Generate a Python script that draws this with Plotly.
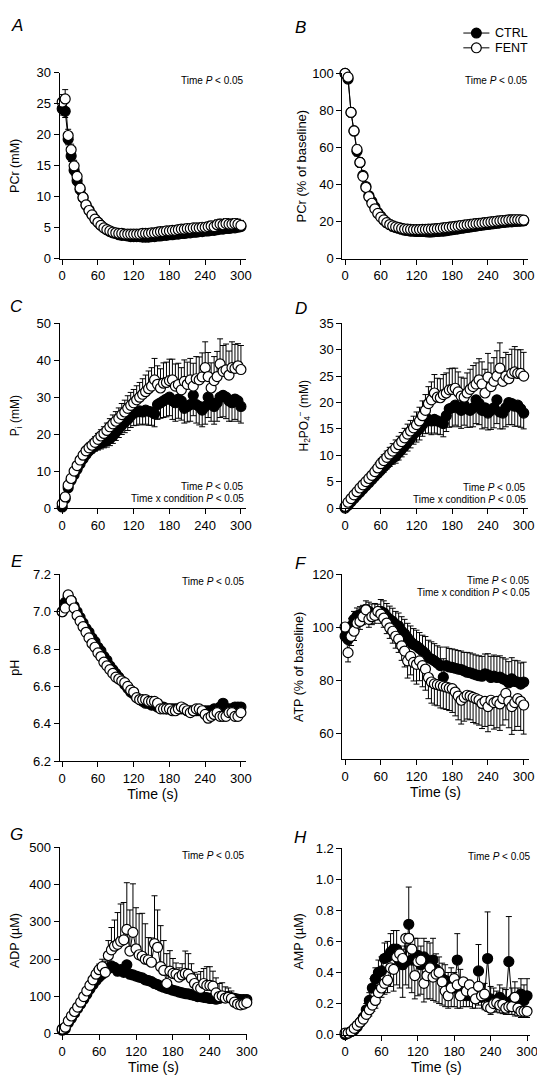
import plotly.graph_objects as go

W, H = 545, 1077
TIME_S = list(range(0, 305, 5))
X_TICKS = [0, 60, 120, 180, 240, 300]

# ---------------- A: PCr (mM) ----------------
pcr_mm_ctrl = [24.2, 23.8, 19.3, 16.6, 14.3, 12.6, 11.2, 9.9, 8.7, 7.9,
               7.1, 6.4, 5.9, 5.4, 5.0, 4.7, 4.4, 4.2, 4.1, 3.9,
               3.8, 3.8, 3.7, 3.6, 3.6, 3.6, 3.6, 3.5, 3.5, 3.5,
               3.6, 3.6, 3.7, 3.7, 3.8, 3.8, 3.9, 3.9, 4.0, 4.0,
               4.1, 4.1, 4.2, 4.2, 4.3, 4.3, 4.4, 4.4, 4.5, 4.5,
               4.6, 4.6, 4.7, 4.8, 4.8, 4.9, 4.9, 5.0, 5.0, 5.1,
               5.2]
pcr_mm_fent = [25.3, 25.8, 19.9, 17.6, 15.0, 13.3, 11.4, 9.9, 8.7, 7.8,
               7.1, 6.4, 5.9, 5.4, 5.0, 4.7, 4.5, 4.3, 4.2, 4.1,
               4.1, 4.0, 4.0, 4.0, 4.0, 4.0, 4.0, 4.1, 4.1, 4.1,
               4.2, 4.2, 4.3, 4.4, 4.4, 4.5, 4.5, 4.6, 4.6, 4.7,
               4.8, 4.8, 4.9, 4.9, 5.0, 5.0, 5.0, 5.1, 5.1, 5.2,
               5.3, 5.2, 5.5, 5.6, 5.5, 5.7, 5.6, 5.6, 5.7, 5.6,
               5.4]
pcr_mm_ctrl_err = [1.0, 1.0, 0.9, 0.9, 0.8, 0.8, 0.8, 0.7, 0.7, 0.7,
                   0.6, 0.6, 0.6, 0.6, 0.6, 0.6, 0.6, 0.6, 0.6, 0.6,
                   0.6, 0.6, 0.6, 0.6, 0.6, 0.6, 0.6, 0.6, 0.6, 0.6,
                   0.6, 0.6, 0.6, 0.6, 0.6, 0.6, 0.6, 0.6, 0.6, 0.6,
                   0.6, 0.6, 0.6, 0.6, 0.6, 0.6, 0.6, 0.6, 0.6, 0.6,
                   0.6, 0.6, 0.6, 0.6, 0.6, 0.6, 0.6, 0.6, 0.6, 0.6,
                   0.6]
pcr_mm_fent_err = [1.2, 1.5, 1.0, 0.9, 0.9, 0.8, 0.8, 0.8, 0.7, 0.7,
                   0.7, 0.7, 0.7, 0.7, 0.7, 0.7, 0.7, 0.7, 0.7, 0.7,
                   0.7, 0.7, 0.7, 0.7, 0.7, 0.7, 0.7, 0.7, 0.7, 0.7,
                   0.7, 0.7, 0.7, 0.7, 0.7, 0.7, 0.7, 0.7, 0.7, 0.7,
                   0.7, 0.7, 0.7, 0.7, 0.7, 0.7, 0.7, 0.7, 0.7, 0.7,
                   0.8, 0.8, 0.8, 0.8, 0.8, 0.8, 0.8, 0.8, 0.8, 0.8,
                   0.8]

# ---------------- B: PCr (% of baseline) ----------------
pcr_pct_ctrl = [100, 97, 79, 69, 58, 52, 45, 39, 34, 31,
                28, 25, 23, 21, 19.5, 18.5, 17.5, 17.0, 16.5, 16.0,
                15.5, 15.3, 15.0, 15.0, 14.8, 14.8, 14.8, 14.7, 14.5, 14.5,
                14.7, 14.8, 15.0, 15.0, 15.2, 15.5, 15.7, 16.0, 16.2, 16.5,
                16.7, 17.0, 17.2, 17.5, 17.7, 18.0, 18.2, 18.4, 18.6, 18.8,
                19.0, 19.2, 19.4, 19.6, 19.8, 20.0, 20.0, 20.2, 20.3, 20.4,
                20.5]
pcr_pct_fent = [100, 98, 79, 69, 59, 52, 44.5, 38.5, 33.5, 30,
                27, 24.5, 22.5, 21, 19.5, 18.5, 17.8, 17.2, 16.8, 16.4,
                16.1, 16.0, 15.9, 15.8, 15.8, 15.8, 15.9, 15.9, 16.0, 16.0,
                16.2, 16.3, 16.5, 16.7, 16.9, 17.1, 17.3, 17.5, 17.7, 18.0,
                18.2, 18.4, 18.6, 18.8, 19.0, 19.1, 19.3, 19.5, 19.7, 19.9,
                20.1, 20.3, 20.5, 20.7, 20.8, 21.0, 21.0, 21.1, 21.1, 21.0,
                20.9]
pcr_pct_ctrl_err = [0, 2.0, 2.5, 2.5, 2.5, 2.5, 2.5, 2.5, 2.5, 2.5,
                    2.5, 2.5, 2.5, 2.5, 2.5, 2.5, 2.5, 2.5, 2.5, 2.5,
                    2.5, 2.5, 2.5, 2.5, 2.5, 2.5, 2.5, 2.5, 2.5, 2.5,
                    2.5, 2.5, 2.5, 2.5, 2.5, 2.5, 2.5, 2.5, 2.5, 2.5,
                    2.5, 2.5, 2.5, 2.5, 2.5, 2.5, 2.5, 2.5, 2.5, 2.5,
                    2.5, 2.5, 2.5, 2.5, 2.5, 2.5, 2.5, 2.5, 2.5, 2.5,
                    2.5]
pcr_pct_fent_err = [0, 2.0, 2.5, 2.5, 2.5, 2.5, 2.5, 2.5, 2.5, 2.5,
                    2.5, 2.5, 2.5, 2.5, 2.5, 2.5, 2.5, 2.5, 2.5, 2.5,
                    2.5, 2.5, 2.5, 2.5, 2.5, 2.5, 2.5, 2.5, 2.5, 2.5,
                    2.5, 2.5, 2.5, 2.5, 2.5, 2.5, 2.5, 2.5, 2.5, 2.5,
                    2.5, 2.5, 2.5, 2.5, 2.5, 2.5, 2.5, 2.5, 2.5, 2.5,
                    2.5, 2.5, 2.5, 2.5, 2.5, 2.5, 2.5, 2.5, 2.5, 2.5,
                    2.5]

# ---------------- C: Pi (mM) ----------------
pi_ctrl = [0.3, 2.5, 5.5, 7.5, 9.0, 10.5, 12.0, 13.3, 14.5, 15.5,
           16.2, 16.8, 17.2, 17.6, 18.0, 18.3, 18.8, 19.5, 20.5, 21.5,
           22.5, 23.2, 24.0, 25.0, 25.7, 26.0, 26.3, 26.0, 26.5, 26.2,
           26.0, 25.5, 28.0, 28.5, 29.0, 29.5, 30.0, 29.0, 28.5, 29.5,
           29.0, 27.0, 27.5, 28.0, 30.5, 28.0, 27.5, 26.5, 27.5, 30.0,
           28.5, 27.5, 28.5, 30.0, 30.5, 30.0, 29.0, 28.5, 29.5, 29.0,
           27.5]
pi_fent = [1.2, 3.0, 6.2, 8.0, 10.0, 11.5, 13.0, 14.3, 15.5, 16.3,
           17.0, 17.8, 18.6, 19.5, 20.2, 21.0, 22.0, 22.8, 23.5, 24.3,
           25.3, 26.0, 27.0, 27.8, 28.5, 29.3, 30.0, 30.8, 31.5, 32.3,
           33.0, 34.7, 33.5, 32.5, 33.8, 34.0, 34.5, 34.7, 33.0, 33.4,
           32.0, 34.3, 33.5, 34.7, 33.0, 35.0, 34.7, 35.5, 38.0, 35.6,
           32.5, 34.5, 35.6, 39.0, 37.0, 37.4, 36.0, 38.0, 37.8, 38.5,
           37.5]
pi_ctrl_err = [0.3, 0.5, 0.7, 0.8, 0.9, 1.0, 1.0, 1.1, 1.2, 1.2,
               1.3, 1.4, 1.5, 1.6, 1.7, 1.8, 1.9, 2.0, 2.2, 2.4,
               2.6, 2.8, 3.0, 3.2, 3.4, 3.6, 3.6, 3.5, 3.8, 3.8,
               3.6, 3.5, 4.0, 4.2, 4.5, 4.8, 5.0, 5.0, 5.0, 5.2,
               5.2, 4.0, 4.2, 4.5, 5.5, 5.0, 5.0, 4.5, 4.8, 5.5,
               5.0, 4.8, 5.0, 5.5, 5.8, 5.8, 5.5, 5.0, 5.5, 5.5,
               4.5]
pi_fent_err = [0.4, 0.6, 0.8, 0.9, 1.0, 1.0, 1.1, 1.2, 1.2, 1.3,
               1.4, 1.5, 1.6, 1.7, 1.8, 2.0, 2.2, 2.4, 2.6, 2.8,
               3.0, 3.2, 3.4, 3.5, 3.6, 3.8, 4.0, 4.2, 4.5, 4.8,
               5.0, 5.8, 5.0, 5.2, 5.5, 5.5, 5.8, 5.6, 6.0, 5.8,
               6.0, 5.8, 6.0, 5.8, 6.2, 6.0, 6.2, 6.5, 7.0, 6.5,
               6.8, 6.5, 6.8, 6.8, 7.0, 7.0, 6.5, 7.0, 6.5, 6.0,
               6.5]

# ---------------- D: H2PO4- (mM) ----------------
h2po4_ctrl = [0.0, 0.5, 1.2, 1.8, 2.4, 3.0, 3.6, 4.2, 4.8, 5.4,
              6.0, 6.6, 7.2, 7.8, 8.4, 9.0, 9.5, 9.8, 10.5, 11.2,
              11.8, 12.5, 13.2, 14.0, 14.5, 15.0, 15.8, 16.5, 16.8, 16.5,
              16.8, 16.5, 16.3, 16.0, 17.5, 18.8, 19.0, 19.5, 19.0, 18.5,
              19.5, 18.8, 18.5, 19.0, 20.5, 19.8, 18.5, 19.0, 18.0, 18.5,
              19.0, 20.5, 18.2, 18.0, 19.0, 20.0, 19.8, 19.3, 19.5, 18.8,
              18.0]
h2po4_fent = [0.3, 1.1, 1.8, 2.5, 3.1, 3.8, 4.4, 5.0, 5.6, 6.2,
              6.9, 7.6, 8.4, 9.0, 9.6, 10.2, 10.8, 11.4, 12.0, 12.6,
              13.3, 14.0, 14.6, 15.2, 15.8, 16.5, 17.5, 18.5, 19.8, 20.5,
              21.8, 21.0, 20.9, 21.5, 21.8, 22.4, 22.5, 22.7, 22.0, 21.2,
              21.0, 21.8, 22.5, 23.0, 23.5, 24.3, 23.5, 21.8, 24.8, 23.0,
              24.0, 25.0, 26.5, 24.0, 25.0, 24.5, 25.5, 25.8, 25.5, 25.5,
              25.0]
h2po4_ctrl_err = [0.2, 0.3, 0.4, 0.4, 0.5, 0.5, 0.6, 0.6, 0.7, 0.7,
                  0.8, 0.8, 0.9, 1.0, 1.0, 1.1, 1.2, 1.3, 1.4, 1.5,
                  1.6, 1.7, 1.8, 1.9, 2.0, 2.1, 2.2, 2.4, 2.6, 2.6,
                  2.6, 2.5, 2.4, 2.5, 3.0, 3.5, 3.6, 3.8, 3.6, 3.4,
                  3.8, 3.5, 3.2, 3.6, 4.5, 4.0, 3.5, 3.8, 3.2, 3.6,
                  3.8, 4.5, 3.2, 3.0, 3.6, 4.2, 4.0, 3.8, 4.0, 3.5,
                  3.0]
h2po4_fent_err = [0.2, 0.3, 0.4, 0.5, 0.5, 0.6, 0.6, 0.7, 0.8, 0.8,
                  0.9, 1.0, 1.0, 1.1, 1.2, 1.3, 1.4, 1.5, 1.6, 1.7,
                  1.8, 1.9, 2.0, 2.2, 2.4, 2.6, 2.8, 3.0, 3.2, 3.4,
                  3.5, 3.6, 3.6, 3.8, 3.8, 4.0, 4.0, 3.8, 3.8, 3.6,
                  3.6, 3.8, 3.8, 4.0, 4.0, 4.0, 4.2, 4.5, 4.5, 4.5,
                  4.5, 4.8, 4.8, 4.5, 4.5, 4.6, 4.6, 4.8, 4.5, 4.5,
                  4.5]

# ---------------- E: pH ----------------
ph_ctrl = [7.00, 7.05, 7.08, 7.06, 7.03, 7.00, 6.97, 6.94, 6.91, 6.89,
           6.86, 6.84, 6.81, 6.79, 6.76, 6.74, 6.71, 6.69, 6.67, 6.65,
           6.63, 6.61, 6.59, 6.57, 6.56, 6.54, 6.53, 6.52, 6.51, 6.51,
           6.50, 6.50, 6.49, 6.49, 6.49, 6.48, 6.48, 6.48, 6.48, 6.48,
           6.48, 6.48, 6.47, 6.47, 6.47, 6.47, 6.47, 6.47, 6.47, 6.47,
           6.47, 6.48, 6.47, 6.49, 6.51, 6.48, 6.48, 6.48, 6.49, 6.49,
           6.49]
ph_fent = [7.00, 7.02, 7.09, 7.06, 7.02, 6.98, 6.95, 6.92, 6.89, 6.86,
           6.83, 6.81, 6.78, 6.76, 6.73, 6.71, 6.69, 6.67, 6.65, 6.64,
           6.63, 6.62, 6.60, 6.58, 6.57, 6.54, 6.53, 6.53, 6.53, 6.52,
           6.52, 6.52, 6.51, 6.48, 6.48, 6.48, 6.48, 6.47, 6.47, 6.48,
           6.49, 6.48, 6.47, 6.46, 6.47, 6.48, 6.48, 6.47, 6.45, 6.43,
           6.44, 6.45, 6.46, 6.44, 6.44, 6.44, 6.46, 6.46, 6.44, 6.44,
           6.46]
ph_ctrl_err = [0.01, 0.01, 0.01, 0.01, 0.01, 0.01, 0.01, 0.01, 0.01, 0.01,
               0.01, 0.01, 0.01, 0.01, 0.01, 0.01, 0.01, 0.01, 0.01, 0.01,
               0.01, 0.01, 0.01, 0.01, 0.01, 0.01, 0.01, 0.01, 0.01, 0.01,
               0.01, 0.01, 0.01, 0.01, 0.01, 0.01, 0.01, 0.01, 0.01, 0.01,
               0.01, 0.01, 0.01, 0.01, 0.01, 0.01, 0.01, 0.01, 0.01, 0.01,
               0.01, 0.01, 0.01, 0.01, 0.02, 0.01, 0.01, 0.01, 0.01, 0.01,
               0.01]
ph_fent_err = [0.01, 0.01, 0.01, 0.01, 0.01, 0.01, 0.01, 0.01, 0.01, 0.01,
               0.01, 0.01, 0.01, 0.01, 0.015, 0.015, 0.02, 0.02, 0.02, 0.02,
               0.02, 0.02, 0.02, 0.02, 0.02, 0.02, 0.02, 0.02, 0.02, 0.02,
               0.02, 0.02, 0.02, 0.02, 0.02, 0.02, 0.02, 0.02, 0.02, 0.02,
               0.02, 0.02, 0.02, 0.02, 0.02, 0.02, 0.02, 0.02, 0.02, 0.02,
               0.02, 0.02, 0.02, 0.02, 0.02, 0.02, 0.02, 0.02, 0.02, 0.02,
               0.02]

# ---------------- F: ATP (% of baseline) ----------------
atp_ctrl = [96.6, 95.4, 100.4, 103.0, 104.3, 104.8, 105.3, 106.8, 106.0, 105.3,
            105.0, 104.7, 106.0, 105.5, 104.0, 103.0, 102.2, 101.0, 100.4, 98.5,
            97.5, 96.0, 94.5, 93.5, 92.9, 92.0, 91.0, 90.0, 88.6, 88.0,
            87.3, 86.5, 85.5, 81.1, 85.5, 85.0, 84.8, 84.5, 84.2, 84.0,
            83.5, 83.0, 82.8, 82.4, 82.0, 81.7, 81.5, 82.4, 82.0, 81.0,
            81.5, 81.0, 81.2, 80.5, 80.0, 79.0, 80.5, 79.5, 79.3, 78.5,
            79.3]
atp_fent = [100.1, 90.4, 96.6, 98.5, 101.6, 102.2, 104.0, 106.6, 103.0, 104.0,
            104.5, 106.0, 105.0, 103.5, 101.6, 99.8, 98.5, 96.6, 95.5, 93.0,
            91.0, 87.3, 89.0, 86.7, 86.0, 87.3, 85.5, 84.2, 81.0, 79.3,
            78.6, 78.3, 78.0, 77.7, 77.4, 77.0, 76.8, 75.5, 74.0, 72.4,
            73.5, 74.3, 74.0, 73.5, 73.0, 72.5, 71.2, 72.0, 70.0, 72.4,
            71.5, 72.0, 71.0, 73.0, 75.0, 72.0, 70.0, 71.5, 73.0, 72.0,
            70.6]
atp_ctrl_err = [3.0, 3.0, 3.0, 3.0, 3.0, 3.0, 3.0, 3.2, 3.5, 3.5,
                4.0, 4.0, 4.5, 4.5, 5.0, 5.0, 5.0, 5.0, 5.0, 5.5,
                5.5, 5.5, 6.0, 6.0, 6.0, 6.0, 6.0, 6.5, 6.5, 6.5,
                6.5, 6.5, 7.0, 7.0, 7.0, 7.0, 7.0, 7.0, 7.0, 7.0,
                7.0, 7.5, 7.5, 7.5, 7.5, 7.5, 7.5, 7.5, 8.0, 8.0,
                8.0, 8.0, 8.0, 8.0, 8.0, 8.0, 8.0, 8.0, 8.0, 8.0,
                7.5]
atp_fent_err = [3.0, 3.5, 3.5, 3.5, 3.0, 3.0, 3.0, 3.0, 3.0, 3.0,
                3.0, 3.0, 3.5, 3.5, 4.0, 4.0, 4.5, 4.5, 5.0, 5.5,
                6.0, 6.5, 7.0, 7.0, 7.5, 7.5, 8.0, 8.0, 8.0, 8.0,
                8.0, 8.0, 8.5, 8.5, 8.5, 8.5, 9.0, 9.0, 9.0, 9.0,
                9.0, 9.0, 9.0, 9.5, 9.5, 9.5, 9.5, 9.5, 9.5, 9.5,
                10.0, 10.0, 10.0, 10.0, 10.0, 10.0, 10.5, 10.5, 10.5, 11.0,
                11.0]

# ---------------- G: ADP (uM) ----------------
adp_ctrl = [10, 14, 30, 42, 55, 68, 80, 93, 106, 120,
            132, 143, 152, 160, 168, 175, 182, 178, 168, 172,
            165, 185, 160, 158, 155, 152, 150, 145, 143, 140,
            135, 132, 128, 125, 122, 120, 117, 115, 112, 110,
            108, 107, 105, 103, 100, 100, 98, 97, 95, 95,
            93, 95, 98, 100, 100, 97, 95, 93, 92, 92,
            92]
adp_fent = [13, 18, 35, 48, 60, 72, 85, 100, 115, 130,
            145, 160, 172, 180, 165, 210, 225, 235, 240, 248,
            252, 280, 222, 272, 228, 212, 208, 200, 198, 192,
            242, 232, 180, 170, 135, 168, 162, 160, 152, 158,
            162, 160, 148, 135, 125, 122, 135, 130, 130, 128,
            110, 100, 102, 96, 98, 95, 85, 80, 78, 80,
            84]
adp_ctrl_err = [2, 2, 3, 3, 4, 4, 5, 5, 6, 6,
                7, 8, 8, 9, 10, 10, 10, 10, 10, 10,
                10, 12, 10, 10, 10, 10, 10, 10, 10, 10,
                10, 10, 10, 10, 10, 10, 10, 10, 10, 10,
                9, 9, 9, 9, 9, 9, 9, 9, 9, 9,
                8, 8, 8, 8, 8, 8, 8, 8, 8, 8,
                8]
adp_fent_err = [3, 4, 5, 6, 7, 8, 9, 10, 11, 12,
                13, 14, 15, 20, 30, 40, 60, 70, 85, 100,
                100, 125, 110, 130, 110, 110, 115, 95, 60, 65,
                128, 100, 110, 80, 80, 55, 40, 30, 25, 30,
                60, 55, 40, 30, 35, 45, 40, 50, 50, 40,
                40, 35, 35, 30, 25, 20, 20, 15, 15, 10,
                10]

# ---------------- H: AMP (uM) ----------------
amp_ctrl = [0.00, 0.01, 0.02, 0.03, 0.05, 0.08, 0.11, 0.16, 0.22, 0.30,
            0.36, 0.40, 0.41, 0.49, 0.50, 0.53, 0.55, 0.55, 0.47, 0.45,
            0.47, 0.71, 0.48, 0.50, 0.51, 0.45, 0.50, 0.48, 0.47, 0.48,
            0.42, 0.40, 0.36, 0.35, 0.30, 0.33, 0.30, 0.48, 0.32, 0.27,
            0.25, 0.27, 0.25, 0.23, 0.41, 0.24, 0.25, 0.49, 0.23, 0.22,
            0.20, 0.24, 0.22, 0.21, 0.47, 0.22, 0.24, 0.20, 0.26, 0.22,
            0.25]
amp_fent = [0.01, 0.01, 0.02, 0.04, 0.06, 0.08, 0.10, 0.13, 0.16, 0.19,
            0.22, 0.27, 0.30, 0.33, 0.35, 0.43, 0.42, 0.50, 0.52, 0.49,
            0.62, 0.62, 0.55, 0.38, 0.47, 0.48, 0.33, 0.38, 0.43, 0.37,
            0.39, 0.40, 0.34, 0.28, 0.25, 0.30, 0.36, 0.32, 0.25, 0.34,
            0.28, 0.32, 0.27, 0.23, 0.31, 0.25, 0.26, 0.18, 0.17, 0.20,
            0.205, 0.19, 0.195, 0.17, 0.18, 0.18, 0.24, 0.17, 0.15, 0.15,
            0.15]
amp_ctrl_err = [0.01, 0.01, 0.01, 0.02, 0.02, 0.03, 0.03, 0.04, 0.05, 0.06,
                0.07, 0.08, 0.09, 0.10, 0.10, 0.12, 0.12, 0.12, 0.10, 0.10,
                0.10, 0.24, 0.10, 0.12, 0.11, 0.12, 0.12, 0.12, 0.12, 0.14,
                0.10, 0.10, 0.10, 0.10, 0.10, 0.10, 0.10, 0.17, 0.10, 0.08,
                0.08, 0.08, 0.08, 0.08, 0.17, 0.08, 0.08, 0.30, 0.08, 0.08,
                0.08, 0.08, 0.08, 0.08, 0.29, 0.08, 0.10, 0.10, 0.10, 0.10,
                0.11]
amp_fent_err = [0.01, 0.01, 0.01, 0.02, 0.02, 0.02, 0.03, 0.03, 0.04, 0.04,
                0.05, 0.05, 0.06, 0.07, 0.08, 0.12, 0.14, 0.18, 0.22, 0.25,
                0.30, 0.32, 0.28, 0.15, 0.22, 0.22, 0.12, 0.15, 0.20, 0.15,
                0.18, 0.20, 0.15, 0.10, 0.08, 0.12, 0.18, 0.15, 0.08, 0.16,
                0.10, 0.14, 0.10, 0.06, 0.12, 0.08, 0.10, 0.03, 0.04, 0.05,
                0.06, 0.05, 0.06, 0.04, 0.05, 0.05, 0.12, 0.05, 0.04, 0.04,
                0.04]

FONT = "Liberation Sans, Arial, Helvetica, sans-serif"
TICK_SIZE = 13

# layout geometry of each panel (pixel positions in a 545x1077 page)
panels = [
    dict(letter="A", lx=8, ly=11, x0=54.3, x300=236.7, xl=51.7, xr=241.7, yt=58.7, yb=247.3,
         yr=[0, 30], dtick=5, fmt="", ytitle="PCr (mM)", standoff=15, tsize=12.5,
         ctrl=(pcr_mm_ctrl, pcr_mm_ctrl_err, "down"), fent=(pcr_mm_fent, pcr_mm_fent_err, "up"),
         stats=["Time <i>P</i> &lt; 0.05"], sx=242, sy=66, xlabel=False),
    dict(letter="B", lx=298, ly=12.5, x0=343, x300=525.3, xl=340.3, xr=530, yt=59.3, yb=247.3,
         yr=[0, 100], dtick=20, fmt="", ytitle="PCr (% of baseline)", standoff=2, tsize=13,
         ctrl=(pcr_pct_ctrl, pcr_pct_ctrl_err, "down"), fent=(pcr_pct_fent, pcr_pct_fent_err, "up"),
         stats=["Time <i>P</i> &lt; 0.05"], sx=532, sy=66, xlabel=False),
    dict(letter="C", lx=8, ly=296, x0=54.3, x300=236.7, xl=51.7, xr=241.7, yt=312.7, yb=500,
         yr=[0, 50], dtick=10, fmt="", ytitle="P<sub>i</sub> (mM)", standoff=15, tsize=12,
         ctrl=(pi_ctrl, pi_ctrl_err, "down"), fent=(pi_fent, pi_fent_err, "up"),
         stats=["Time <i>P</i> &lt; 0.05", "Time x condition <i>P</i> &lt; 0.05"], sx=242, sy=478, xlabel=False),
    dict(letter="D", lx=298, ly=297.5, x0=343, x300=525.3, xl=340.3, xr=530, yt=312.7, yb=500,
         yr=[0, 35], dtick=5, fmt="", ytitle="H<sub>2</sub>PO<sub>4</sub><sup>\u2212</sup> (mM)", standoff=8, tsize=12,
         ctrl=(h2po4_ctrl, h2po4_ctrl_err, "down"), fent=(h2po4_fent, h2po4_fent_err, "up"),
         stats=["Time <i>P</i> &lt; 0.05", "Time x condition <i>P</i> &lt; 0.05"], sx=530, sy=479, xlabel=False),
    dict(letter="E", lx=8, ly=554, x0=54.3, x300=236.7, xl=51.7, xr=241.7, yt=567.3, yb=756.7,
         yr=[6.2, 7.2], dtick=0.2, fmt=".1f", ytitle="pH", standoff=10, tsize=12.5,
         ctrl=(ph_ctrl, ph_ctrl_err, "up"), fent=(ph_fent, ph_fent_err, "down"),
         stats=["Time <i>P</i> &lt; 0.05"], sx=243, sy=574, xlabel=True, xlx=149, xly=792),
    dict(letter="F", lx=298, ly=556, x0=343, x300=525.3, xl=340.3, xr=530.3, yt=567.3, yb=755,
         yr=[50, 120], dtick=20, tickvals=[60, 80, 100, 120], fmt="", ytitle="ATP (% of baseline)", standoff=5, tsize=12.5,
         ctrl=(atp_ctrl, atp_ctrl_err, "up"), fent=(atp_fent, atp_fent_err, "down"),
         stats=["Time <i>P</i> &lt; 0.05", "Time x condition <i>P</i> &lt; 0.05"], sx=534, sy=573, xlabel=True, xlx=439, xly=790),
    dict(letter="G", lx=8, ly=831, x0=54.3, x300=242.7, xl=51.7, xr=243.3, yt=844, yb=1033.3,
         yr=[0, 500], dtick=100, fmt="", ytitle="ADP (\u00b5M)", standoff=8, tsize=12.5,
         ctrl=(adp_ctrl, adp_ctrl_err, "down"), fent=(adp_fent, adp_fent_err, "up"),
         stats=["Time <i>P</i> &lt; 0.05"], sx=243, sy=852, xlabel=True, xlx=149, xly=1068),
    dict(letter="H", lx=298, ly=834, x0=343, x300=528.7, xl=340.3, xr=532, yt=845, yb=1034,
         yr=[0, 1.2], dtick=0.2, fmt=".1f", ytitle="AMP (\u00b5M)", standoff=9, tsize=12.5,
         ctrl=(amp_ctrl, amp_ctrl_err, "up"), fent=(amp_fent, amp_fent_err, "down"),
         stats=["Time <i>P</i> &lt; 0.05"], sx=535, sy=853, xlabel=True, xlx=439, xly=1068),
]


def fx(px):
    return px / W


def fy(py):
    return 1 - py / H


fig = go.Figure()
layout = dict(width=W, height=H, margin=dict(l=0, r=0, t=0, b=0),
              paper_bgcolor="white", plot_bgcolor="white", showlegend=False,
              font=dict(family=FONT, color="black"))
annotations = []
shapes = []

for i, p in enumerate(panels):
    sfx = "" if i == 0 else str(i + 1)
    xa, ya = "x" + sfx, "y" + sfx
    k = (p["x300"] - p["x0"]) / 300.0
    xr = [(p["xl"] - p["x0"]) / k, (p["xr"] - p["x0"]) / k]
    layout["xaxis" + sfx] = dict(
        domain=[fx(p["xl"]), fx(p["xr"])], range=xr, anchor=ya,
        showline=True, linecolor="black", linewidth=1, ticks="outside", ticklen=5,
        tickwidth=1, tickcolor="black", tickvals=X_TICKS, showgrid=False, zeroline=False,
        tickfont=dict(size=TICK_SIZE, family=FONT, color="black"))
    if p["xlabel"]:
        layout["xaxis" + sfx]["title"] = dict(text="Time (s)", standoff=4,
                                              font=dict(size=14, family=FONT, color="black"))
    yax = dict(
        domain=[fy(p["yb"]), fy(p["yt"])], range=p["yr"], anchor=xa,
        showline=True, linecolor="black", linewidth=1, ticks="outside", ticklen=5,
        tickwidth=1, tickcolor="black", showgrid=False, zeroline=False,
        tickfont=dict(size=TICK_SIZE, family=FONT, color="black"),
        title=dict(text=p["ytitle"], standoff=p["standoff"],
                   font=dict(size=p["tsize"], family=FONT, color="black")))
    if "tickvals" in p:
        yax["tickvals"] = p["tickvals"]
    else:
        yax["tick0"] = p["yr"][0]
        yax["dtick"] = p["dtick"]
    if p["fmt"]:
        yax["tickformat"] = p["fmt"]
    layout["yaxis" + sfx] = yax

    for name, (vals, err, direction), fill in [("CTRL", p["ctrl"], "black"),
                                                 ("FENT", p["fent"], "white")]:
        zeros = [0] * len(err)
        ey = dict(type="data", symmetric=False,
                  array=err if direction == "up" else zeros,
                  arrayminus=err if direction == "down" else zeros,
                  color="black", thickness=1, width=3)
        fig.add_trace(go.Scatter(
            x=TIME_S, y=vals, name=name, mode="lines+markers", xaxis=xa, yaxis=ya,
            line=dict(color="black", width=1),
            marker=dict(symbol="circle", size=10, color=fill, line=dict(color="black", width=1.2)),
            error_y=ey, cliponaxis=False, showlegend=False))

    # panel letter (italic via font style)
    annotations.append(dict(text=p["letter"], xref="paper", yref="paper",
                            x=fx(p["lx"]), y=fy(p["ly"]), xanchor="center", yanchor="middle",
                            showarrow=False, font=dict(size=17, family=FONT, style="italic")))
    # stats text
    for j, s in enumerate(p["stats"]):
        annotations.append(dict(text=s, xref="paper", yref="paper",
                                x=fx(p["sx"]), y=fy(p["sy"] + 12.5 * j), xanchor="right",
                                yanchor="middle", showarrow=False, font=dict(size=10, family=FONT)))

# legend (top right)
for name, fill, cy in [("CTRL", "black", 18.3), ("FENT", "white", 33.3)]:
    shapes.append(dict(type="line", xref="paper", yref="paper", x0=fx(463.7), x1=fx(490.3),
                       y0=fy(cy), y1=fy(cy), line=dict(color="black", width=1)))
    shapes.append(dict(type="circle", xref="paper", yref="paper", x0=fx(477 - 5), x1=fx(477 + 5),
                       y0=fy(cy + 5), y1=fy(cy - 5), fillcolor=fill, line=dict(color="black", width=1.2)))
    annotations.append(dict(text=name, xref="paper", yref="paper", x=fx(494), y=fy(cy),
                            xanchor="left", yanchor="middle", showarrow=False,
                            font=dict(size=12.5, family=FONT)))

layout["annotations"] = annotations
layout["shapes"] = shapes
fig.update_layout(**layout)
fig.write_html("out.html")
